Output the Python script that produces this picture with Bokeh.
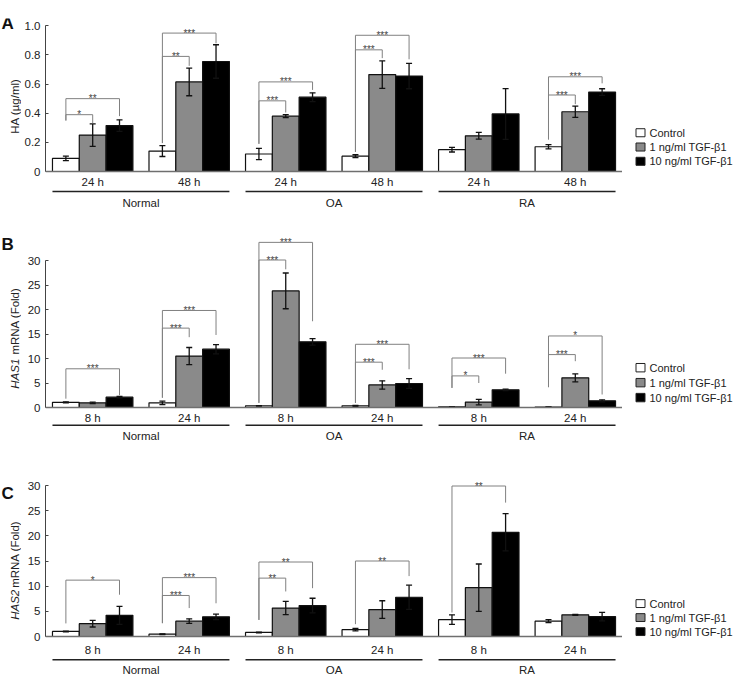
import numpy as np
from bokeh.plotting import figure
from bokeh.models import ColumnDataSource, FixedTicker, Span, Range1d
from bokeh.layouts import column, row
from bokeh.embed import file_html
from bokeh.resources import INLINE
from bokeh.core.properties import value

FONT = "Liberation Sans"

# ---------------- data ----------------
categories = ["Normal", "OA", "RA"]
series_names = ["Control", "1 ng/ml TGF-β1", "10 ng/ml TGF-β1"]
series_colors = ["#ffffff", "#8a8a8a", "#000000"]

a_times = ["24 h", "48 h", "24 h", "48 h", "24 h", "48 h"]
bc_times = ["8 h", "24 h", "8 h", "24 h", "8 h", "24 h"]

a_ticks = [0, 0.2, 0.4, 0.6, 0.8, 1.0]
a_tick_labels = ["0", "0.2", "0.4", "0.6", "0.8", "1.0"]
bc_ticks = [0, 5, 10, 15, 20, 25, 30]
bc_tick_labels = ["0", "5", "10", "15", "20", "25", "30"]

# Panel A: HA (ug/ml)
a_control = [0.09, 0.14, 0.12, 0.105, 0.15, 0.17]
a_control_err = [0.015, 0.037, 0.039, 0.01, 0.016, 0.015]
a_low = [0.25, 0.615, 0.38, 0.665, 0.245, 0.41]
a_low_err = [0.077, 0.095, 0.01, 0.094, 0.023, 0.039]
a_high = [0.315, 0.755, 0.51, 0.655, 0.395, 0.545]
a_high_err = [0.04, 0.115, 0.03, 0.087, 0.174, 0.023]
# (group, compared series, bracket top, left leg end, right leg end, label)
a_brackets = [
    (0, 1, 0.39, 0.35, 0.33, "*"),
    (0, 2, 0.50, 0.35, 0.38, "**"),
    (1, 1, 0.79, 0.195, 0.725, "**"),
    (1, 2, 0.95, 0.195, 0.88, "***"),
    (2, 1, 0.485, 0.19, 0.405, "***"),
    (2, 2, 0.615, 0.19, 0.56, "***"),
    (3, 1, 0.835, 0.135, 0.778, "***"),
    (3, 2, 0.935, 0.135, 0.77, "***"),
    (5, 1, 0.525, 0.22, 0.462, "***"),
    (5, 2, 0.65, 0.22, 0.605, "***"),
]

# Panel B: HAS1 mRNA (Fold)
b_control = [1.05, 0.95, 0.35, 0.35, 0.15, 0.1]
b_control_err = [0.1, 0.35, 0.05, 0.1, 0.03, 0.03]
b_low = [0.95, 10.5, 23.8, 4.6, 1.1, 6.05]
b_low_err = [0.15, 1.75, 3.65, 0.85, 0.55, 0.8]
b_high = [2.1, 11.9, 13.4, 4.9, 3.6, 1.36]
b_high_err = [0.15, 0.95, 0.65, 1.0, 0.15, 0.2]
b_brackets = [
    (0, 2, 7.9, 1.8, 2.5, "***"),
    (1, 1, 16.2, 2.0, 14.35, "***"),
    (1, 2, 19.8, 2.0, 14.8, "***"),
    (2, 1, 30.1, 0.95, 28.2, "***"),
    (2, 2, 33.7, 0.95, 17.6, "***"),
    (3, 1, 9.25, 0.95, 7.7, "***"),
    (3, 2, 12.9, 0.95, 7.8, "***"),
    (4, 1, 6.45, 4.0, 5.0, "*"),
    (4, 2, 10.1, 4.0, 6.9, "***"),
    (5, 1, 10.8, 4.15, 9.45, "***"),
    (5, 2, 14.6, 4.15, 2.65, "*"),
]

# Panel C: HAS2 mRNA (Fold)
c_control = [1.0, 0.46, 0.8, 1.35, 3.35, 3.05]
c_control_err = [0.08, 0.06, 0.08, 0.25, 0.95, 0.3]
c_low = [2.55, 3.05, 5.65, 5.35, 9.7, 4.3]
c_low_err = [0.66, 0.46, 1.32, 1.75, 4.7, 0.1]
c_high = [4.2, 3.9, 6.15, 7.8, 20.7, 3.95]
c_high_err = [1.8, 0.55, 1.45, 2.4, 3.7, 0.85]
c_brackets = [
    (0, 2, 11.2, 2.6, 8.3, "*"),
    (1, 1, 8.15, 2.65, 5.65, "***"),
    (1, 2, 11.7, 2.65, 6.6, "***"),
    (2, 1, 11.6, 3.3, 8.95, "**"),
    (2, 2, 14.8, 3.3, 9.6, "**"),
    (3, 2, 15.0, 2.45, 12.0, "**"),
    (4, 2, 29.9, 4.76, 26.6, "**"),
]

# ---------------- layout constants ----------------
G = 3.6                      # group pitch (in bar widths)
X0, X1 = -0.26, 5 * G + 3 + 0.26
FW = 577
XPX = FW / (X1 - X0)         # px per x unit
LW = 21                      # left strip (panel letter + y title)
BL = 24                      # main figure left border (y axis)
RW = 735 - LW - BL - FW      # right strip (legend)
TXT = "11.5px"


def strip(width, geo):
    fh = geo["fig_h"]
    s = figure(width=width, height=fh, x_range=Range1d(0, width), y_range=Range1d(fh, 0),
               min_border=0, x_axis_location=None, y_axis_location=None, title=None,
               toolbar_location=None, output_backend="svg")
    s.grid.visible = False
    s.outline_line_color = None
    return s


def make_side(letter, ylab, geo, ytop_val):
    ft = geo["fig_top"]
    s = strip(LW, geo)
    s.text(x=[1], y=[geo["letter"] - ft], text=[letter], text_align="left",
           text_baseline="middle", text_font=value(FONT), text_font_size="17px",
           text_font_style="bold", text_color="#111111")
    yc = geo["zero"] - (ytop_val / 2) * geo["scale"] - ft
    lx = 14
    if isinstance(ylab, str):
        s.text(x=[lx], y=[yc], text=[ylab], angle=np.pi / 2, text_align="center",
               text_baseline="middle", text_font=value(FONT), text_font_size=TXT,
               text_color="#222222")
    else:
        ital, rest = ylab
        total, w_it = 104.0, 31.0
        ybot = yc + total / 2
        s.text(x=[lx], y=[ybot], text=[ital], angle=np.pi / 2, text_align="left",
               text_baseline="middle", text_font=value(FONT), text_font_size=TXT,
               text_font_style="italic", text_color="#222222")
        s.text(x=[lx], y=[ybot - w_it - 5.5], text=[rest], angle=np.pi / 2,
               text_align="left", text_baseline="middle", text_font=value(FONT),
               text_font_size=TXT, text_color="#222222")
    return s


def make_legend(geo):
    s = strip(RW, geo)
    y0 = geo["zero"] - geo["legend"] - geo["fig_top"]
    ys = [y0 + 16 * i for i in range(3)]
    s.rect(x=[18] * 3, y=ys, width=9, height=9, fill_color=series_colors,
           line_color="#222222", line_width=1)
    s.text(x=[27] * 3, y=ys, text=series_names, text_align="left", text_baseline="middle",
           text_font=value(FONT), text_font_size="11px", text_color="#222222")
    return s


def make_panel(vals, errs, brackets, times, ticks, tick_labels, geo):
    zero, scale = geo["zero"], geo["scale"]
    ftop, fbot = geo["frame_top"], geo["frame_bottom"]
    y_end = (zero - ftop) / scale
    y_start = -(fbot - zero) / scale

    def yd(page_px):
        return (zero - page_px) / scale

    p = figure(frame_width=FW, frame_height=fbot - ftop,
               x_range=Range1d(X0, X1), y_range=Range1d(y_start, y_end),
               min_border_left=BL, min_border_right=0,
               min_border_top=ftop - geo["fig_top"],
               min_border_bottom=geo["fig_top"] + geo["fig_h"] - fbot,
               x_axis_location=None, title=None,
               toolbar_location=None, output_backend="svg")
    p.grid.visible = False
    p.outline_line_color = None
    p.background_fill_color = "white"
    p.border_fill_color = "white"

    ax = p.yaxis[0]
    ax.ticker = FixedTicker(ticks=ticks)
    ax.bounds = (0, ticks[-1])
    ax.major_label_overrides = {t: l for t, l in zip(ticks, tick_labels)}
    ax.axis_line_color = "#444444"
    ax.major_tick_line_color = "#444444"
    ax.major_tick_in = 3
    ax.major_tick_out = 0
    ax.minor_tick_line_color = None
    ax.major_label_text_font = FONT
    ax.major_label_text_font_size = TXT
    ax.major_label_text_color = "#222222"
    ax.major_label_standoff = 5

    # bars
    for s in range(3):
        xs = [g * G + s + 0.5 for g in range(6)]
        src = ColumnDataSource(dict(x=xs, top=vals[s]))
        p.vbar(x="x", top="top", bottom=0, width=1.0, source=src,
               fill_color=series_colors[s], line_color="#111111", line_width=1.2)

    # error bars
    cw = 3.0 / XPX
    ex, elo, ehi = [], [], []
    for s in range(3):
        for g in range(6):
            ex.append(g * G + s + 0.5)
            elo.append(vals[s][g] - errs[s][g])
            ehi.append(vals[s][g] + errs[s][g])
    ex = np.array(ex); elo = np.array(elo); ehi = np.array(ehi)
    p.segment(x0=ex, y0=elo, x1=ex, y1=ehi, line_color="#111111", line_width=1.3)
    p.segment(x0=ex - cw, y0=ehi, x1=ex + cw, y1=ehi, line_color="#111111", line_width=1.3)
    p.segment(x0=ex - cw, y0=elo, x1=ex + cw, y1=elo, line_color="#111111", line_width=1.3)

    # baseline
    p.add_layout(Span(location=0, dimension="width", line_color="#6f6f6f", line_width=1.6))

    # significance brackets
    bx0, by0, bx1, by1, tx, ty, tt = [], [], [], [], [], [], []
    for g, s, top, lb, rb, lab in brackets:
        xl = g * G + 0.5
        xr = g * G + s + 0.5
        bx0 += [xl, xl, xr]; bx1 += [xr, xl, xr]
        by0 += [top, top, top]; by1 += [top, lb, rb]
        tx.append((xl + xr) / 2); ty.append(top); tt.append(lab)
    p.segment(x0=bx0, y0=by0, x1=bx1, y1=by1, line_color="#808080", line_width=1)
    p.text(x=tx, y=ty, text=tt, text_align="center", text_baseline="alphabetic",
           text_font=value(FONT), text_font_size="10px", text_color="#444444")

    # time labels
    gx = [g * G + 1.5 for g in range(6)]
    p.text(x=gx, y=[yd(zero + geo["sub"])] * 6, text=times, text_align="center",
           text_baseline="middle", text_font=value(FONT), text_font_size=TXT,
           text_color="#222222")
    # category underlines and labels
    ux0 = [2 * k * G for k in range(3)]
    ux1 = [(2 * k + 1) * G + 3 for k in range(3)]
    uy = [yd(zero + geo["line"])] * 3
    p.segment(x0=ux0, y0=uy, x1=ux1, y1=uy, line_color="#222222", line_width=1.5)
    p.text(x=[(a + b) / 2 for a, b in zip(ux0, ux1)], y=[yd(zero + geo["cat"])] * 3,
           text=categories, text_align="center", text_baseline="middle",
           text_font=value(FONT), text_font_size=TXT, text_color="#222222")
    return p


geo_a = dict(zero=179, scale=145.7, fig_top=8, fig_h=214, frame_top=26, frame_bottom=217,
             sub=10, line=20, cat=31, letter=14, legend=43)
geo_b = dict(zero=415, scale=4.9, fig_top=222, fig_h=228, frame_top=236, frame_bottom=449,
             sub=10.3, line=17.7, cat=28.7, letter=239, legend=44)
geo_c = dict(zero=644, scale=5.033, fig_top=450, fig_h=233, frame_top=478, frame_bottom=682,
             sub=13.7, line=23.3, cat=33, letter=476, legend=42)

rows = []
for letter, vals, errs, br, times, ticks, tl, ylab, geo in [
    ("A", [a_control, a_low, a_high], [a_control_err, a_low_err, a_high_err],
     a_brackets, a_times, a_ticks, a_tick_labels, "HA (µg/ml)", geo_a),
    ("B", [b_control, b_low, b_high], [b_control_err, b_low_err, b_high_err],
     b_brackets, bc_times, bc_ticks, bc_tick_labels, ("HAS1", "mRNA (Fold)"), geo_b),
    ("C", [c_control, c_low, c_high], [c_control_err, c_low_err, c_high_err],
     c_brackets, bc_times, bc_ticks, bc_tick_labels, ("HAS2", "mRNA (Fold)"), geo_c),
]:
    side = make_side(letter, ylab, geo, ticks[-1])
    main = make_panel(vals, errs, br, times, ticks, tl, geo)
    leg = make_legend(geo)
    rows.append(row(side, main, leg, spacing=0))

layout = column(*rows, spacing=0)
open("out.html", "w").write(file_html(layout, INLINE))
